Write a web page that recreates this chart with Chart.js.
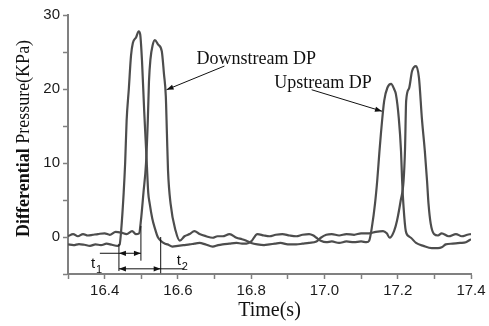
<!DOCTYPE html>
<html>
<head>
<meta charset="utf-8">
<script src="https://cdn.jsdelivr.net/npm/chart.js@4.4.1/dist/chart.umd.min.js"></script>
<style>
	html, body { margin: 0; padding: 0; background: #fff; }
	#wrap { width: 489px; height: 326px; }
</style>
</head>
<body>
<div id="wrap"><canvas id="dp-chart"></canvas></div>
<script>
( function () {
	'use strict';

	// first sensor trace (lower baseline at the start)
	var timeA = [ 16.300, 16.315, 16.330, 16.345, 16.360, 16.375, 16.390, 16.405, 16.420, 16.435,
		16.441, 16.445, 16.452, 16.456, 16.460, 16.466, 16.472, 16.477, 16.486, 16.493,
		16.497, 16.502, 16.508, 16.512, 16.515, 16.519, 16.523, 16.530, 16.537, 16.545,
		16.553, 16.565, 16.572, 16.585, 16.600, 16.615, 16.632, 16.645, 16.659, 16.675,
		16.695, 16.710, 16.722, 16.740, 16.760, 16.775, 16.787, 16.800, 16.817, 16.835,
		16.850, 16.867, 16.885, 16.905, 16.923, 16.940, 16.958, 16.970, 16.978, 16.990,
		17.005, 17.020, 17.040, 17.060, 17.080, 17.100, 17.115, 17.122, 17.130, 17.138,
		17.144, 17.150, 17.154, 17.163, 17.172, 17.182, 17.190, 17.195, 17.203, 17.209,
		17.212, 17.216, 17.222, 17.230, 17.236, 17.250, 17.270, 17.293, 17.310, 17.320,
		17.331, 17.350, 17.370, 17.386, 17.400 ];
	var pressA = [ -1.0, -1.1, -0.95, -1.05, -1.2, -1.0, -1.1, -0.9, -1.05, -1.2,
		-1.0, 0.8, 6, 10, 15.7, 20, 24.5, 26.2, 27.0, 27.8,
		27.4, 23.8, 17, 13, 10, 6, 4.5, 2.5, 1.2, 0,
		-0.5, -0.9, -1.0, -1.3, -1.2, -1.1, -1.0, -0.9, -0.8, -1.0,
		-1.3, -1.1, -1.0, -0.9, -0.8, -0.9, -0.9, -0.6, 0.4, 0.2,
		0.1, 0.3, 0.4, 0.2, 0.1, 0.3, 0.4, 0.2, -0.1, -0.5,
		-0.7, -0.6, -0.8, -0.6, -0.7, -0.6, -0.7, -0.5, 1.5, 4.5,
		7.6, 11.5, 13.9, 18.4, 20.2, 20.7, 20.0, 19.3, 16, 11.6,
		7.6, 4, 0.8, 0.1, -0.1, -0.8, -1.2, -1.5, -1.5, -1.4,
		-1.0, -0.9, -0.8, -0.7, -0.3 ];

	// second sensor trace (upper baseline at the start)
	var timeB = [ 16.300, 16.314, 16.327, 16.341, 16.354, 16.368, 16.382, 16.400, 16.414, 16.430,
		16.445, 16.460, 16.475, 16.485, 16.494, 16.499, 16.506, 16.513, 16.518, 16.521,
		16.525, 16.531, 16.537, 16.546, 16.556, 16.562, 16.567, 16.570, 16.573, 16.580,
		16.594, 16.605, 16.618, 16.632, 16.645, 16.659, 16.677, 16.695, 16.708, 16.722,
		16.741, 16.760, 16.775, 16.787, 16.800, 16.817, 16.835, 16.850, 16.865, 16.880,
		16.900, 16.923, 16.940, 16.958, 16.978, 16.990, 17.005, 17.020, 17.040, 17.060,
		17.081, 17.100, 17.122, 17.140, 17.160, 17.170, 17.178, 17.190, 17.198, 17.208,
		17.216, 17.220, 17.223, 17.231, 17.239, 17.250, 17.258, 17.266, 17.274, 17.280,
		17.284, 17.290, 17.299, 17.310, 17.320, 17.339, 17.359, 17.375, 17.390, 17.400 ];
	var pressB = [ 0.1, 0.4, 0.1, 0.4, 0.2, 0.3, 0.4, 0.5, 0.3, 0.7,
		0.6, 0.4, 0.8, 0.4, 0.5, 2.2, 6, 10, 16, 21,
		24, 25.9, 26.6, 26.0, 25.1, 22, 19, 14, 9, 4.5,
		0.8, -0.5, 0.1, 0.4, 0.8, 0.4, 0.1, -0.1, 0.1, 0.1,
		0.4, -0.1, -0.3, -0.5, -0.8, -1.0, -1.1, -1.0, -0.9, -0.8,
		-1.0, -1.0, -0.9, -0.8, -0.6, -0.1, 0.3, 0.4, 0.2, 0.4,
		0.3, 0.5, 0.5, 0.7, 0.8, 0.5, -0.1, 0.8, 2.2, 4.9,
		7.6, 12, 18.4, 20.1, 22.4, 23.1, 21.5, 16, 11.6, 7.6,
		4.5, 1.8, 0.4, 0.2, 0.5, 0.1, 0.4, 0.1, 0.3, 0.4 ];

	var xMin = 16.3, xMax = 17.4, xStep = 0.1;
	var yMin = -5, yMax = 30, yStep = 5;

	function points( ts, vs ) {
		return ts.map( function ( t, i ) { return { x: t, y: vs[ i ] }; } );
	}

	var lineStyle = {
		borderColor: '#4d4d4d',
		borderWidth: 2.2,
		pointRadius: 0,
		fill: false,
		cubicInterpolationMode: 'monotone',
	};

	function arrow( ctx, x1, y1, x2, y2 ) {
		var a = Math.atan2( y2 - y1, x2 - x1 );
		ctx.beginPath();
		ctx.moveTo( x1, y1 );
		ctx.lineTo( x2, y2 );
		ctx.stroke();
		head( ctx, x2, y2, a );
	}

	function head( ctx, x, y, a ) {
		var len = 7, wid = 2.6;
		ctx.beginPath();
		ctx.moveTo( x, y );
		ctx.lineTo( x - len * Math.cos( a ) + wid * Math.sin( a ), y - len * Math.sin( a ) - wid * Math.cos( a ) );
		ctx.lineTo( x - len * Math.cos( a ) - wid * Math.sin( a ), y - len * Math.sin( a ) + wid * Math.cos( a ) );
		ctx.closePath();
		ctx.fill();
	}

	var notes = {
		id: 'notes',
		afterDraw: function ( chart ) {
			var ctx = chart.ctx;
			var xs = chart.scales.x, ys = chart.scales.y;
			var px = function ( t ) { return xs.getPixelForValue( t ); };
			var py = function ( v ) { return ys.getPixelForValue( v ); };

			ctx.save();
			ctx.fillStyle = '#111';
			ctx.strokeStyle = '#111';
			ctx.lineWidth = 1;

			// sensor labels
			ctx.font = '18px "Liberation Serif", "Times New Roman", serif';
			ctx.textAlign = 'left';
			ctx.textBaseline = 'alphabetic';
			ctx.fillText( 'Downstream DP', px( 16.651 ), py( 23.4 ) );
			ctx.fillText( 'Upstream DP', px( 16.863 ), py( 20.1 ) );
			arrow( ctx, px( 16.727 ), py( 23.1 ), px( 16.569 ), py( 19.9 ) );
			arrow( ctx, px( 16.965 ), py( 19.9 ), px( 17.157 ), py( 17.0 ) );

			// t1 / t2 markers
			ctx.beginPath();
			ctx.moveTo( px( 16.439 ), py( -0.95 ) ); ctx.lineTo( px( 16.439 ), py( -4.6 ) );
			ctx.moveTo( px( 16.499 ), py( 1.5 ) ); ctx.lineTo( px( 16.499 ), py( -3.2 ) );
			ctx.moveTo( px( 16.553 ), py( 0 ) ); ctx.lineTo( px( 16.553 ), py( -4.9 ) );
			ctx.moveTo( px( 16.387 ), py( -2.2 ) ); ctx.lineTo( px( 16.499 ), py( -2.2 ) );
			ctx.moveTo( px( 16.439 ), py( -4.3 ) ); ctx.lineTo( px( 16.618 ), py( -4.3 ) );
			ctx.stroke();
			head( ctx, px( 16.439 ), py( -2.2 ), Math.PI );
			head( ctx, px( 16.499 ), py( -2.2 ), 0 );
			head( ctx, px( 16.439 ), py( -4.3 ), Math.PI );
			head( ctx, px( 16.553 ), py( -4.3 ), 0 );

			ctx.font = '15px "Liberation Sans", Arial, sans-serif';
			ctx.fillText( 't', px( 16.3626 ), py( -4.2 ) );
			ctx.fillText( 't', px( 16.597 ), py( -3.8 ) );
			ctx.font = '11px "Liberation Sans", Arial, sans-serif';
			ctx.fillText( '1', px( 16.3626 ) + 5, py( -4.2 ) + 5 );
			ctx.fillText( '2', px( 16.597 ) + 5, py( -3.8 ) + 5 );

			// y axis title, first word in bold
			ctx.translate( 24, 237 );
			ctx.rotate( -Math.PI / 2 );
			ctx.textBaseline = 'middle';
			ctx.font = 'bold 18px "Liberation Serif", "Times New Roman", serif';
			ctx.fillText( 'Differential', 0, 0 );
			var w = ctx.measureText( 'Differential' ).width;
			ctx.font = '18px "Liberation Serif", "Times New Roman", serif';
			ctx.fillText( ' Pressure(KPa)', w, 0 );
			ctx.restore();
		},
	};

	var tickFont = { family: '"Liberation Sans", Arial, sans-serif', size: 15 };
	var axisGrey = '#808080';

	new Chart( document.getElementById( 'dp-chart' ), {
		type: 'line',
		data: {
			datasets: [
				Object.assign( { label: 'A', data: points( timeA, pressA ) }, lineStyle ),
				Object.assign( { label: 'B', data: points( timeB, pressB ) }, lineStyle ),
			],
		},
		options: {
			responsive: true,
			maintainAspectRatio: false,
			animation: false,
			layout: { padding: { top: 15, right: 18, bottom: 0, left: 0 } },
			plugins: {
				legend: { display: false },
				tooltip: { enabled: false },
			},
			scales: {
				x: {
					type: 'linear',
					min: xMin,
					max: xMax,
					afterFit: function ( s ) { s.height = 52; },
					ticks: {
						stepSize: xStep,
						autoSkip: false,
						maxRotation: 0,
						padding: 3,
						color: '#1a1a1a',
						font: tickFont,
						callback: function ( v ) {
							var k = Math.round( ( v - 16.4 ) * 10 );
							return k >= 0 && k % 2 === 0 ? v.toFixed( 1 ) : '';
						},
					},
					grid: { drawOnChartArea: false, drawTicks: true, tickLength: 5, tickColor: axisGrey, tickWidth: 1.5 },
					border: { display: true, color: axisGrey, width: 2 },
					title: {
						display: true,
						text: 'Time(s)',
						color: '#111',
						font: { family: '"Liberation Serif", "Times New Roman", serif', size: 20 },
						padding: { top: 0, bottom: 3 },
					},
				},
				y: {
					min: yMin,
					max: yMax,
					afterFit: function ( s ) { s.width = 68; },
					ticks: {
						stepSize: yStep,
						padding: 3,
						color: '#1a1a1a',
						font: tickFont,
						callback: function ( v ) { return v % 10 === 0 ? v : ''; },
					},
					grid: { drawOnChartArea: false, drawTicks: true, tickLength: 5, tickColor: axisGrey, tickWidth: 1.5 },
					border: { display: true, color: axisGrey, width: 2 },
				},
			},
		},
		plugins: [ notes ],
	} );
} )();
</script>
</body>
</html>
